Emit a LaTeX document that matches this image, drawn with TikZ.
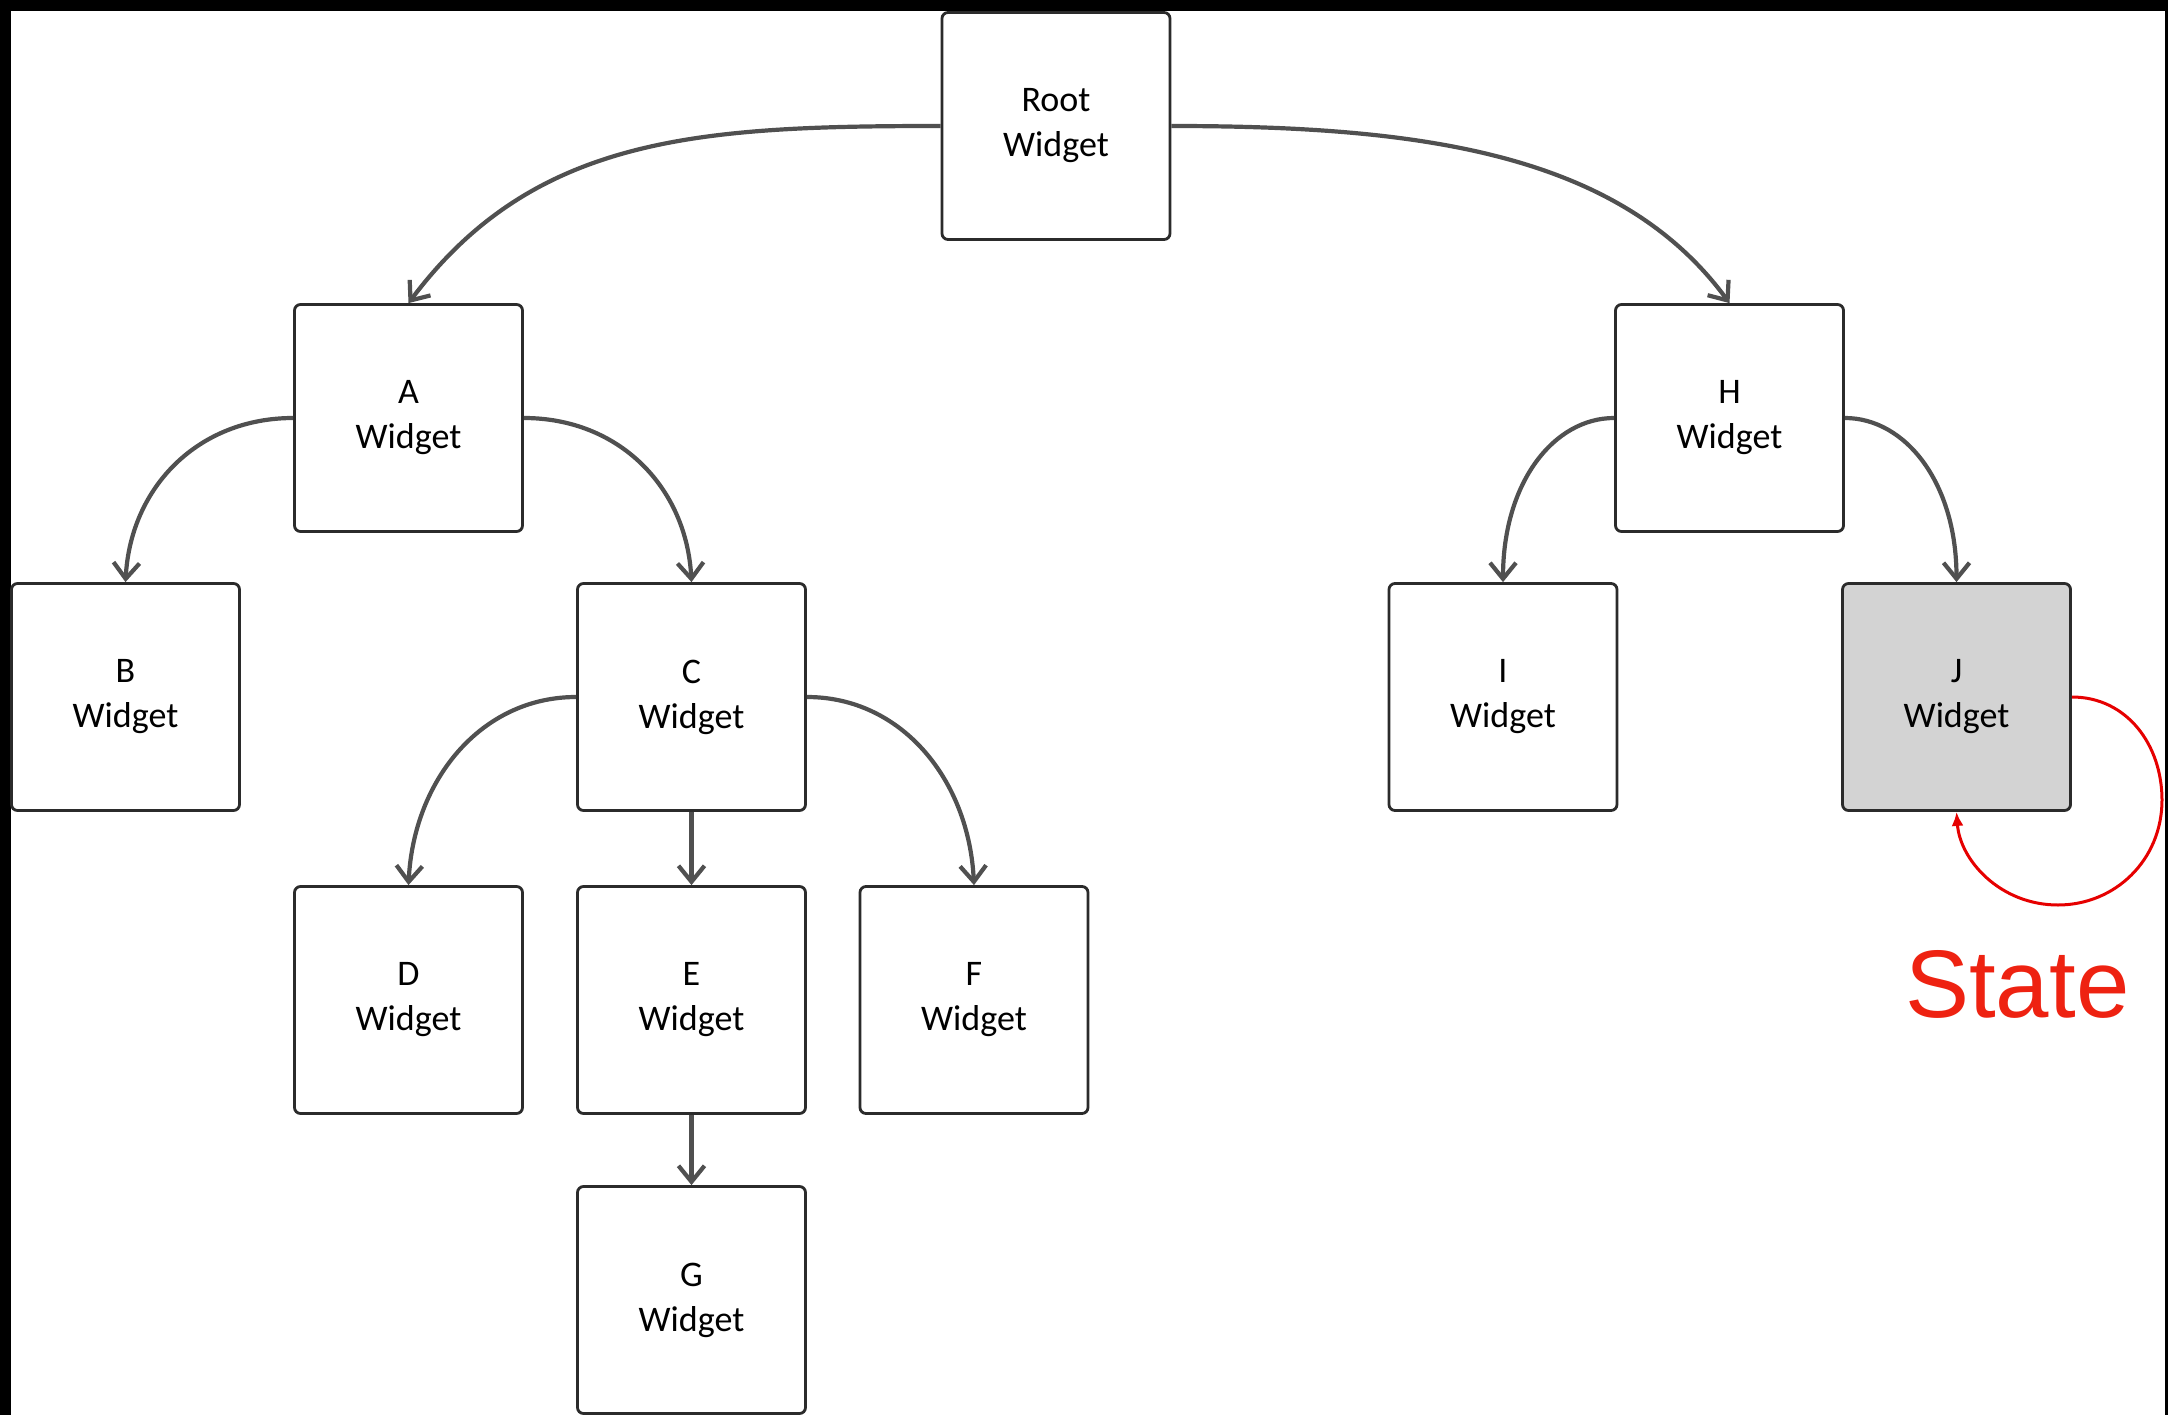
\documentclass[tikz,border=0pt]{standalone}
\usepackage{fontspec}
\setmainfont{Carlito}
\newfontfamily\statefont{Liberation Sans}
\usetikzlibrary{arrows.meta}
\definecolor{boxline}{HTML}{2B2B2B}
\definecolor{edgegray}{HTML}{505050}
\definecolor{jfill}{HTML}{D3D3D3}
\definecolor{statered}{HTML}{EE2211}
\definecolor{loopred}{HTML}{E60000}
\begin{document}
\begin{tikzpicture}[x=1pt,y=-1pt,
  wbox/.style={draw=boxline, line width=2.8pt, rounded corners=6pt, fill=white,
    minimum width=228pt, minimum height=227pt, align=center,
    font=\fontsize{36}{45}\selectfont, text=black, inner sep=0pt},
  edge/.style={draw=edgegray, line width=4.2pt, -{Straight Barb[length=16pt,width=26pt]}},
  loopedge/.style={draw=loopred, line width=3pt, -{Latex[length=14pt,width=12pt]}},
]
\fill[black] (0,0) rectangle (2168,1415);
\fill[white] (11,11) rectangle (2165,1415);
\useasboundingbox (0,0) rectangle (2168,1415);

\node[wbox] (root) at (1056,126) {Root\\Widget};
\node[wbox] (A) at (408.5,418) {A\\Widget};
\node[wbox] (B) at (125.5,697) {B\\Widget};
\node[wbox] (C) at (691.5,697) {C\\Widget};
\node[wbox] (D) at (408.5,1000) {D\\Widget};
\node[wbox] (E) at (691.5,1000) {E\\Widget};
\node[wbox] (F) at (974,1000) {F\\Widget};
\node[wbox] (G) at (691.5,1300) {G\\Widget};
\node[wbox] (H) at (1729.5,418) {H\\Widget};
\node[wbox] (I) at (1503,697) {I\\Widget};
\node[wbox, fill=jfill] (J) at (1956.5,697) {J\\Widget};

\draw[edge] (root.west) .. controls +(-240,0) and +(126,-168) .. (A.north);
\draw[edge] (root.east) .. controls +(250,0) and +(-110,-150) .. (H.north);
\draw[edge] (A.west) .. controls +(-95,0) and +(5,-95) .. (B.north);
\draw[edge] (A.east) .. controls +(95,0) and +(-5,-95) .. (C.north);
\draw[edge] (C.west) .. controls +(-95,0) and +(5,-105) .. (D.north);
\draw[edge] (C.east) .. controls +(95,0) and +(-5,-105) .. (F.north);
\draw[edge] (C.south) -- (E.north);
\draw[edge] (E.south) -- (G.north);
\draw[edge] (H.west) .. controls +(-60,0) and +(0,-100) .. (I.north);
\draw[edge] (H.east) .. controls +(60,0) and +(0,-100) .. (J.north);

\coordinate (loopR) at (2162,800);
\coordinate (loopB) at (2058,905);
\draw[loopedge] (J.east) .. controls +(55,0) and (2162,745) .. (loopR)
  .. controls (2162,860) and (2115,905) .. (loopB)
  .. controls (2000,905) and (1960,860) .. (J.south);

\node[anchor=base west, inner sep=0pt, text=statered,
  font=\statefont\fontsize{96}{110}\selectfont] (state) at (1905,1017) {State};
\end{tikzpicture}
\end{document}
